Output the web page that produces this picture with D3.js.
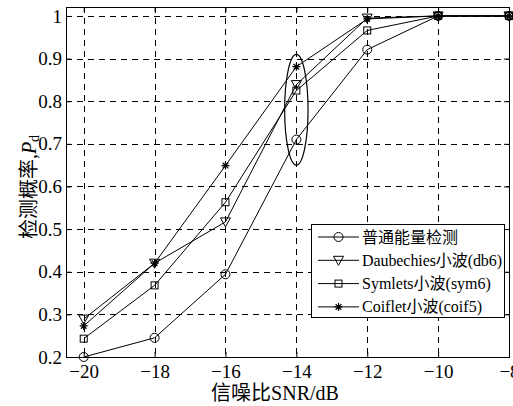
<!DOCTYPE html>
<html><head><meta charset="utf-8">
<script src="https://cdn.jsdelivr.net/npm/d3@7"></script>
<style>body{margin:0;background:#fff}svg{display:block}</style>
</head><body><svg id="c" width="513" height="406"></svg>
<script>
const snr = [-20, -18, -16, -14, -12, -10, -8];
const energy = [0.200, 0.245, 0.394, 0.710, 0.921, 1.0, 1.0];
const db6 = [0.289, 0.420, 0.517, 0.839, 0.995, 1.0, 1.0];
const sym6 = [0.243, 0.368, 0.563, 0.825, 0.966, 1.0, 1.0];
const coif5 = [0.273, 0.420, 0.649, 0.881, 0.993, 1.0, 1.0];
const seriesNames = ["普通能量检测", "Daubechies小波(db6)", "Symlets小波(sym6)", "Coiflet小波(coif5)"];
const xTicks = [-20, -18, -16, -14, -12, -10, -8];
const yTicks = [0.2, 0.3, 0.4, 0.5, 0.6, 0.7, 0.8, 0.9, 1];
const ellipse = {x: -14, y: 0.78, rx: 0.33, ry: 0.13};

const serif = "'Times New Roman','Liberation Serif','Noto Sans CJK SC',serif";
const svg = d3.select("#c");
const L = 66, R = 509, T = 7, B = 357;
const x = d3.scaleLinear().domain([-20.5, -8]).range([L, R]);
const y = d3.scaleLinear().domain([0.2, 1.021]).range([B, T]);

// grid
const g = svg.append("g");
g.selectAll(".gx").data(xTicks).join("line")
  .attr("x1", d => Math.round(x(d)) + 0.5).attr("x2", d => Math.round(x(d)) + 0.5)
  .attr("y1", T).attr("y2", B).attr("stroke", "#000").attr("stroke-width", 1).attr("stroke-dasharray", "6,5");
g.selectAll(".gy").data(yTicks).join("line")
  .attr("y1", d => Math.round(y(d)) + 0.5).attr("y2", d => Math.round(y(d)) + 0.5)
  .attr("x1", L).attr("x2", R).attr("stroke", "#000").attr("stroke-width", 1).attr("stroke-dasharray", "6,5");

// axes
const xa = svg.append("g").attr("transform", `translate(0,${B})`)
  .call(d3.axisBottom(x).tickValues(xTicks).tickSize(-5).tickPadding(8).tickFormat(d3.format("d")));
const xt = svg.append("g").attr("transform", `translate(0,${T})`)
  .call(d3.axisTop(x).tickValues(xTicks).tickSize(-5).tickFormat(""));
const ya = svg.append("g").attr("transform", `translate(${L},0)`)
  .call(d3.axisLeft(y).tickValues(yTicks).tickSize(-5).tickPadding(4).tickFormat(d => d === 1 ? "1" : d3.format(".1f")(d)));
const yr = svg.append("g").attr("transform", `translate(${R},0)`)
  .call(d3.axisRight(y).tickValues(yTicks).tickSize(-5).tickFormat(""));
[xa, xt, ya, yr].forEach(a => {
  a.select(".domain").remove();
  a.selectAll("line").attr("stroke", "#000");
  a.selectAll("text").attr("font-family", serif).attr("font-size", 19).attr("fill", "#000");
});
svg.append("rect").attr("x", L + 0.5).attr("y", T + 0.5).attr("width", R - L).attr("height", B - T)
  .attr("fill", "none").attr("stroke", "#000").attr("stroke-width", 1);

// lines
const all = [energy, db6, sym6, coif5];
const line = d3.line().x((d, i) => x(snr[i])).y(d => y(d));
const lg = svg.append("g");
all.forEach(s => lg.append("path").attr("d", line(s)).attr("fill", "none").attr("stroke", "#000").attr("stroke-width", 1));

function marker(sel, k, cx, cy) {
  if (k === 0) sel.append("circle").attr("cx", cx).attr("cy", cy).attr("r", 4.5).attr("fill", "none").attr("stroke", "#000");
  else if (k === 1) sel.append("path").attr("d", `M${cx - 5},${cy - 4}L${cx + 5},${cy - 4}L${cx},${cy + 5}Z`).attr("fill", "none").attr("stroke", "#000");
  else if (k === 2) sel.append("rect").attr("x", cx - 3.5).attr("y", cy - 3.5).attr("width", 7).attr("height", 7).attr("fill", "none").attr("stroke", "#000");
  else {
    const r = 4;
    let d = "";
    for (let a = 0; a < 4; a++) {
      const t = a * Math.PI / 4;
      d += `M${cx - r * Math.cos(t)},${cy - r * Math.sin(t)}L${cx + r * Math.cos(t)},${cy + r * Math.sin(t)}`;
    }
    sel.append("path").attr("d", d).attr("stroke", "#000").attr("stroke-width", 1.2);
  }
}
all.forEach((s, k) => s.forEach((v, i) => marker(lg, k, x(snr[i]), y(v))));

// ellipse
svg.append("ellipse").attr("cx", x(ellipse.x)).attr("cy", y(ellipse.y))
  .attr("rx", x(ellipse.x + ellipse.rx) - x(ellipse.x)).attr("ry", y(ellipse.y - ellipse.ry) - y(ellipse.y))
  .attr("fill", "none").attr("stroke", "#000").attr("stroke-width", 1.2);

// legend
const lx = 311, ly = 224, lw = 193, lh = 93;
const leg = svg.append("g");
leg.append("rect").attr("x", lx + 0.5).attr("y", ly + 0.5).attr("width", lw).attr("height", lh)
  .attr("fill", "#fff").attr("stroke", "#000");
seriesNames.forEach((n, k) => {
  const yy = ly + 13 + k * 23.3;
  leg.append("line").attr("x1", lx + 7).attr("x2", lx + 48).attr("y1", yy).attr("y2", yy).attr("stroke", "#000");
  marker(leg, k, lx + 27.5, yy);
  leg.append("text").attr("x", lx + 51).attr("y", yy + 5.5).attr("font-family", serif).attr("font-size", 16)
    .attr("textLength", k === 1 ? 140 : null).text(n);
});

// labels
svg.append("text").attr("x", 275).attr("y", 400).attr("text-anchor", "middle")
  .attr("font-family", serif).attr("font-size", 20).text("信噪比SNR/dB");
const yl = svg.append("text").attr("transform", "translate(36,187) rotate(-90)").attr("text-anchor", "middle")
  .attr("font-family", serif).attr("font-size", 20);
yl.append("tspan").text("检测概率,");
yl.append("tspan").attr("font-style", "italic").text("P");
yl.append("tspan").attr("font-size", 14).attr("dy", 3).text("d");
</script></body></html>
